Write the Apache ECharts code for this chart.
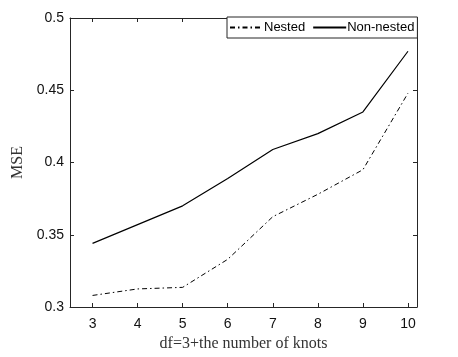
<!DOCTYPE html>
<html>
<head>
<meta charset="utf-8">
<script src="https://cdn.jsdelivr.net/npm/echarts@6/dist/echarts.min.js"></script>
<style>
  html, body { margin: 0; padding: 0; background: #fff; }
  #chart { width: 458px; height: 357px; }
</style>
</head>
<body>
<div id="chart"></div>
<script>
// data
var knots = [3, 4, 5, 6, 7, 8, 9, 10];
var nested = [0.308, 0.3125, 0.3136, 0.333, 0.3625, 0.378, 0.395, 0.448];
var nonNested = [0.344, 0.357, 0.370, 0.389, 0.409, 0.420, 0.435, 0.477];

function pairs(xs, ys) {
    return xs.map(function (x, i) { return [x, ys[i]]; });
}

var axisColor = '#262626';
var myChart = echarts.init(document.getElementById('chart'));

var option = {
    animation: false,
    grid: { left: 70, right: 41, top: 18, bottom: 50 },
    legend: {
        left: 227, top: 17,
        padding: [4, 3, 4, 2],
        itemGap: 7,
        itemWidth: 33,
        itemHeight: 12,
        borderColor: axisColor,
        borderWidth: 1,
        backgroundColor: '#fff',
        itemStyle: { opacity: 0 },
        textStyle: { fontSize: 13, color: '#000', fontFamily: 'Liberation Sans', padding: [0, 0, 0, -4] },
        data: ['Nested', 'Non-nested']
    },
    xAxis: [{
        type: 'value', min: 2.5, max: 10.2,
        name: 'df=3+the number of knots',
        nameLocation: 'middle', nameGap: 26,
        nameTextStyle: { fontFamily: 'Liberation Serif', fontSize: 16, color: '#333' },
        axisLine: { lineStyle: { color: axisColor, width: 1 } },
        axisTick: { inside: true, length: 4, customValues: knots, lineStyle: { color: axisColor } },
        axisLabel: { customValues: knots, fontSize: 14, color: '#111', fontFamily: 'Liberation Sans', margin: 10 },
        splitLine: { show: false }
    }, {
        type: 'value', min: 2.5, max: 10.2, position: 'top',
        axisLine: { lineStyle: { color: axisColor, width: 1 } },
        axisTick: { inside: true, length: 4, customValues: knots, lineStyle: { color: axisColor } },
        axisLabel: { show: false },
        splitLine: { show: false }
    }],
    yAxis: [{
        type: 'value', min: 0.3, max: 0.5, interval: 0.05,
        name: 'MSE',
        nameLocation: 'middle', nameGap: 38,
        nameTextStyle: { fontFamily: 'Liberation Serif', fontSize: 16, color: '#333' },
        axisLine: { show: true, lineStyle: { color: axisColor, width: 1 } },
        axisTick: { show: true, inside: true, length: 4, lineStyle: { color: axisColor } },
        axisLabel: { fontSize: 14, color: '#111', fontFamily: 'Liberation Sans', margin: 6 },
        splitLine: { show: false }
    }, {
        type: 'value', min: 0.3, max: 0.5, interval: 0.05, position: 'right',
        axisLine: { show: true, lineStyle: { color: axisColor, width: 1 } },
        axisTick: { show: true, inside: true, length: 4, lineStyle: { color: axisColor } },
        axisLabel: { show: false },
        splitLine: { show: false }
    }],
    series: [{
        name: 'Nested',
        type: 'line',
        data: pairs(knots, nested),
        symbol: 'none',
        color: '#000',
        lineStyle: { color: '#000', width: 1, type: [5, 3, 1.5, 3] }
    }, {
        name: 'Non-nested',
        type: 'line',
        data: pairs(knots, nonNested),
        symbol: 'none',
        color: '#000',
        lineStyle: { color: '#000', width: 1.2 }
    }]
};

myChart.setOption(option);
</script>
</body>
</html>
